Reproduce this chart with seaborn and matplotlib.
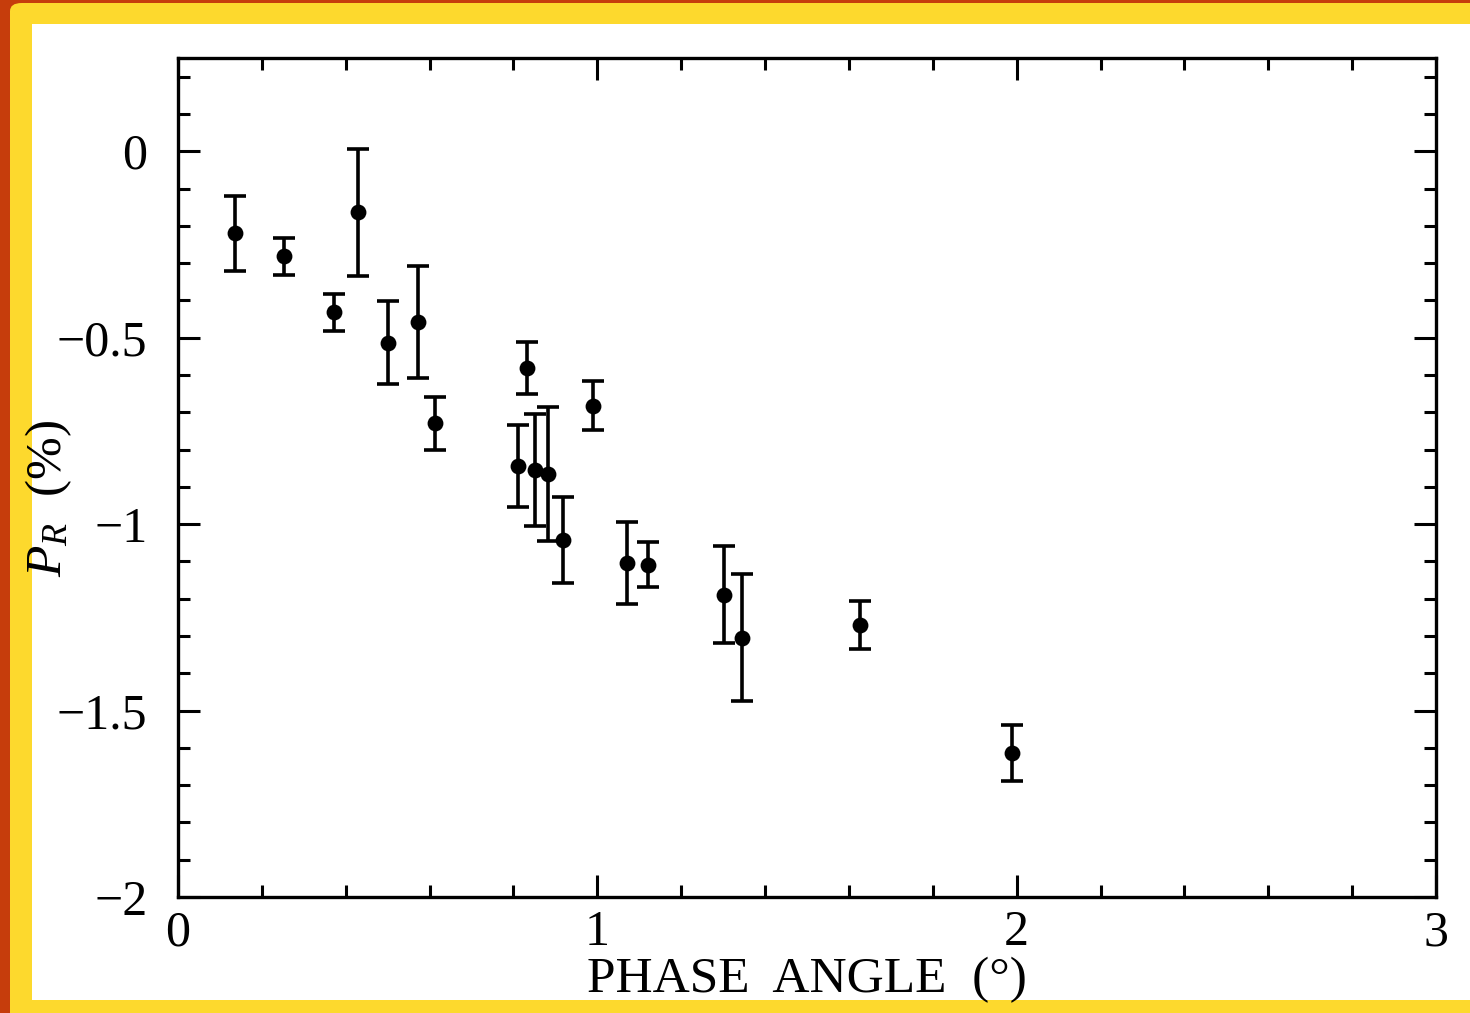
import matplotlib
matplotlib.use("Agg")
import matplotlib.pyplot as plt
from matplotlib.patches import Rectangle, FancyBboxPatch
from matplotlib.ticker import MultipleLocator
import seaborn as sns
import pandas as pd

# Data
phase_angle = [0.136, 0.253, 0.372, 0.429, 0.501, 0.572, 0.613, 0.811, 0.832,
               0.851, 0.882, 0.918, 0.990, 1.071, 1.121, 1.302, 1.345, 1.627, 1.989]
pol_r = [-0.220, -0.282, -0.432, -0.164, -0.513, -0.459, -0.730, -0.843, -0.582,
         -0.854, -0.865, -1.042, -0.682, -1.104, -1.109, -1.189, -1.305, -1.270, -1.613]
pol_err = [0.10, 0.05, 0.05, 0.17, 0.11, 0.15, 0.07, 0.11, 0.07,
           0.15, 0.18, 0.115, 0.065, 0.11, 0.06, 0.13, 0.17, 0.065, 0.075]

x_ticks = [0, 1, 2, 3]
x_tick_labels = ["0", "1", "2", "3"]
y_ticks = [0, -0.5, -1, -1.5, -2]
y_tick_labels = ["0", "\u22120.5", "\u22121", "\u22121.5", "\u22122"]

df = pd.DataFrame({"alpha": phase_angle, "P": pol_r, "err": pol_err})

sns.set_theme(style="ticks")
plt.rcParams["font.family"] = ["Liberation Serif", "DejaVu Serif"]
plt.rcParams["mathtext.fontset"] = "custom"
plt.rcParams["mathtext.rm"] = "Liberation Serif"
plt.rcParams["mathtext.it"] = "Liberation Serif:italic"

W, H = 1470, 1013
fig = plt.figure(figsize=(W / 100, H / 100), dpi=100)
fig.patch.set_facecolor("white")

# decorative frame
fig.add_artist(Rectangle((0, 0), 1, 1, transform=fig.transFigure,
                         facecolor="#C63D0C", edgecolor="none", zorder=-30))
fig.add_artist(FancyBboxPatch((10 / W, -0.1), 1.2, 1.1 - 3 / H,
                              boxstyle="round,pad=0,rounding_size=0.008",
                              transform=fig.transFigure, facecolor="#FDD92D",
                              edgecolor="none", zorder=-20))
fig.add_artist(Rectangle((32 / W, 13 / H), 1.0, (1000 - 24) / H,
                         transform=fig.transFigure, facecolor="white",
                         edgecolor="none", zorder=-10))

ax = fig.add_axes([178 / W, 1 - 897 / H, (1436 - 178) / W, (897 - 58) / H])
ax.set_facecolor("white")

ax.errorbar(df["alpha"], df["P"], yerr=df["err"], fmt="none", ecolor="black",
            elinewidth=2.6, capsize=8, capthick=2.6, zorder=2)
sns.scatterplot(data=df, x="alpha", y="P", ax=ax, color="black", s=130,
                edgecolor="black", linewidth=0, zorder=3, legend=False)

ax.set_xlim(0, 3)
ax.set_ylim(-2, 0.25)
ax.set_xticks(x_ticks)
ax.set_xticklabels(x_tick_labels)
ax.set_yticks(y_ticks)
ax.set_yticklabels(y_tick_labels)
ax.xaxis.set_minor_locator(MultipleLocator(0.2))
ax.yaxis.set_minor_locator(MultipleLocator(0.1))

ax.tick_params(which="both", direction="in", top=True, right=True,
               color="black", width=2.2, labelsize=36, labelcolor="black")
ax.tick_params(which="major", length=16, pad=9)
ax.tick_params(which="minor", length=8.5)
ax.tick_params(axis="y", which="major", pad=22)

for sp in ax.spines.values():
    sp.set_visible(True)
    sp.set_linewidth(2.4)
    sp.set_color("black")

ax.set_xlabel("PHASE  ANGLE  (\u00b0)", fontsize=37, color="black")
ax.set_ylabel(r"$P_R$  (%)", fontsize=37, color="black")
ax.xaxis.set_label_coords(0.5, -0.071)
ax.yaxis.set_label_coords(-0.083, 0.475)

fig.savefig("out.png", dpi=100)
